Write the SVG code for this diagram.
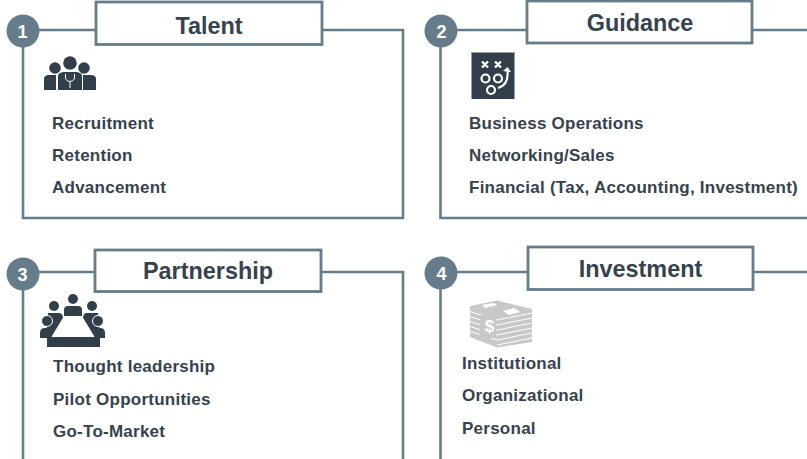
<svg xmlns="http://www.w3.org/2000/svg" width="807" height="459" viewBox="0 0 807 459">
<style>
.ln{fill:none;stroke:#667c8b;stroke-width:2.6}
.hd{fill:#fff;stroke:#667c8b;stroke-width:2.8}
.bd{fill:#667c8b}
.num{font:bold 18px "Liberation Sans",Arial,sans-serif;fill:#fff;text-anchor:middle}
.ttl{font:bold 23.400px "Liberation Sans",Arial,sans-serif;fill:#36424e;text-anchor:middle}
.it{font:bold 17px "Liberation Sans",Arial,sans-serif;fill:#36424e;letter-spacing:.25px}
.ic{fill:#323f4b}
.sep{fill:none;stroke:#fff;stroke-width:1}
.bill{fill:#c8c8c6}
</style>
<rect width="807" height="459" fill="#fff"/>
<g id="connectors">
<path class="ln" d="M23 31V218H403V30H322M96 30H35"/>
<path class="ln" d="M440.500 31V218H807M753 30H807M527 30H455"/>
<path class="ln" d="M23 274V459M95 272H35M322 272H403V459"/>
<path class="ln" d="M440.500 274V459M528 272H455M753 272H807"/>
</g>
<g id="node-1">
<circle class="bd" cx="23" cy="31" r="16.500"/>
<text class="num" x="22.500" y="38">1</text>
<rect class="hd" x="96" y="2" width="226" height="42.500"/>
<text class="ttl" x="209" y="34">Talent</text>
<g>
<circle class="ic" cx="55" cy="68" r="5.800"/><circle class="ic" cx="84" cy="68" r="5.800"/><circle class="ic" cx="70" cy="63" r="6.800"/>
<path class="ic" d="M44 90V79Q44 75 49 75H56V90ZM83 75H91Q96 75 96 79V90H83ZM58 90V76Q58 73 63 72H77Q82 73 82 76V90Z"/>
<path class="sep" d="M65.500 74V79Q70 84 74.500 79V74M70 82V88"/>
</g>
<text class="it" x="52" y="129">Recruitment</text>
<text class="it" x="52" y="160.500">Retention</text>
<text class="it" x="52" y="193">Advancement</text>
</g>
<g id="node-2">
<circle class="bd" cx="441" cy="31" r="16.500"/>
<text class="num" x="441.500" y="38">2</text>
<rect class="hd" x="527" y="1" width="225" height="42"/>
<text class="ttl" x="640" y="30.500">Guidance</text>
<g>
<rect class="ic" x="471.500" y="52" width="43" height="47"/>
<path d="M472 52.500H514" stroke="#9aa3aa" stroke-width="1"/>
<path d="M482 61.500L488 67.500M488 61.500L482 67.500M495 61.500L501 67.500M501 61.500L495 67.500" stroke="#fff" stroke-width="2.300" fill="none"/>
<g fill="none" stroke="#fff" stroke-width="2.200">
<circle cx="485.500" cy="78.500" r="4"/><circle cx="498" cy="78.500" r="4"/><circle cx="491" cy="90" r="4"/>
<path d="M498 88Q509 85 507.500 70"/>
</g>
<path d="M503 71L507.500 67L511 72Z" fill="#fff"/>
</g>
<text class="it" x="469" y="129">Business Operations</text>
<text class="it" x="469" y="160.500">Networking/Sales</text>
<text class="it" x="469" y="193">Financial (Tax, Accounting, Investment)</text>
</g>
<g id="node-3">
<circle class="bd" cx="23" cy="274" r="16.500"/>
<text class="num" x="22.500" y="281">3</text>
<rect class="hd" x="95" y="250" width="226" height="41.500"/>
<text class="ttl" x="208" y="279">Partnership</text>
<g>
<circle class="ic" cx="73" cy="299" r="5"/><circle class="ic" cx="54" cy="306" r="5"/><circle class="ic" cx="92" cy="306" r="5"/>
<path class="ic" d="M64 316V310Q64 306 68 306H78Q82 306 82 310V316ZM48 313H60Q63 314 63 318L53 334H46ZM83 318Q83 314 86 313H98L100 334H93Z"/>
<path fill="#fff" d="M52 338L64 316H82L94 338Z"/>
<circle class="ic" cx="47" cy="321" r="5.500" stroke="#fff"/><circle class="ic" cx="98" cy="321" r="5.500" stroke="#fff"/>
<path class="ic" d="M40 338V333Q40 328 45 328H50Q53 328 55 330L51 338ZM91 330Q93 328 96 328H100Q105 328 105 333V338H95Z"/>
<rect class="ic" x="47" y="337" width="53" height="10"/>
</g>
<text class="it" x="53" y="372">Thought leadership</text>
<text class="it" x="53" y="404.500">Pilot Opportunities</text>
<text class="it" x="53" y="437">Go-To-Market</text>
</g>
<g id="node-4">
<circle class="bd" cx="441" cy="273" r="16.500"/>
<text class="num" x="441.500" y="280">4</text>
<rect class="hd" x="528" y="247" width="225" height="42.500"/>
<text class="ttl" x="640.500" y="277">Investment</text>
<g>
<path class="bill" d="M470 306L497 300.500L532 309V342L497 347.500L470 337Z"/>
<path class="sep" d="M470 311.500L497 320M470 316.500L497 325M470 321.500L497 330M470 326.500L497 335M470 331.500L497 340M497 320L532 313M497 325L532 318M497 330L532 323M497 335L532 328M497 340L532 333M497 345L532 338"/>
<path d="M482 305L494 303L497 305L485 308ZM503 311L514 308L520 312L509 315Z" fill="#fff"/>
<rect class="bill" x="480" y="315" width="16" height="23"/>
<text x="489.500" y="332" font-family="Liberation Sans,Arial,sans-serif" font-size="17" font-weight="bold" fill="#fff" text-anchor="middle">$</text>
</g>
<text class="it" x="462" y="369">Institutional</text>
<text class="it" x="462" y="401">Organizational</text>
<text class="it" x="462" y="434">Personal</text>
</g>
</svg>
